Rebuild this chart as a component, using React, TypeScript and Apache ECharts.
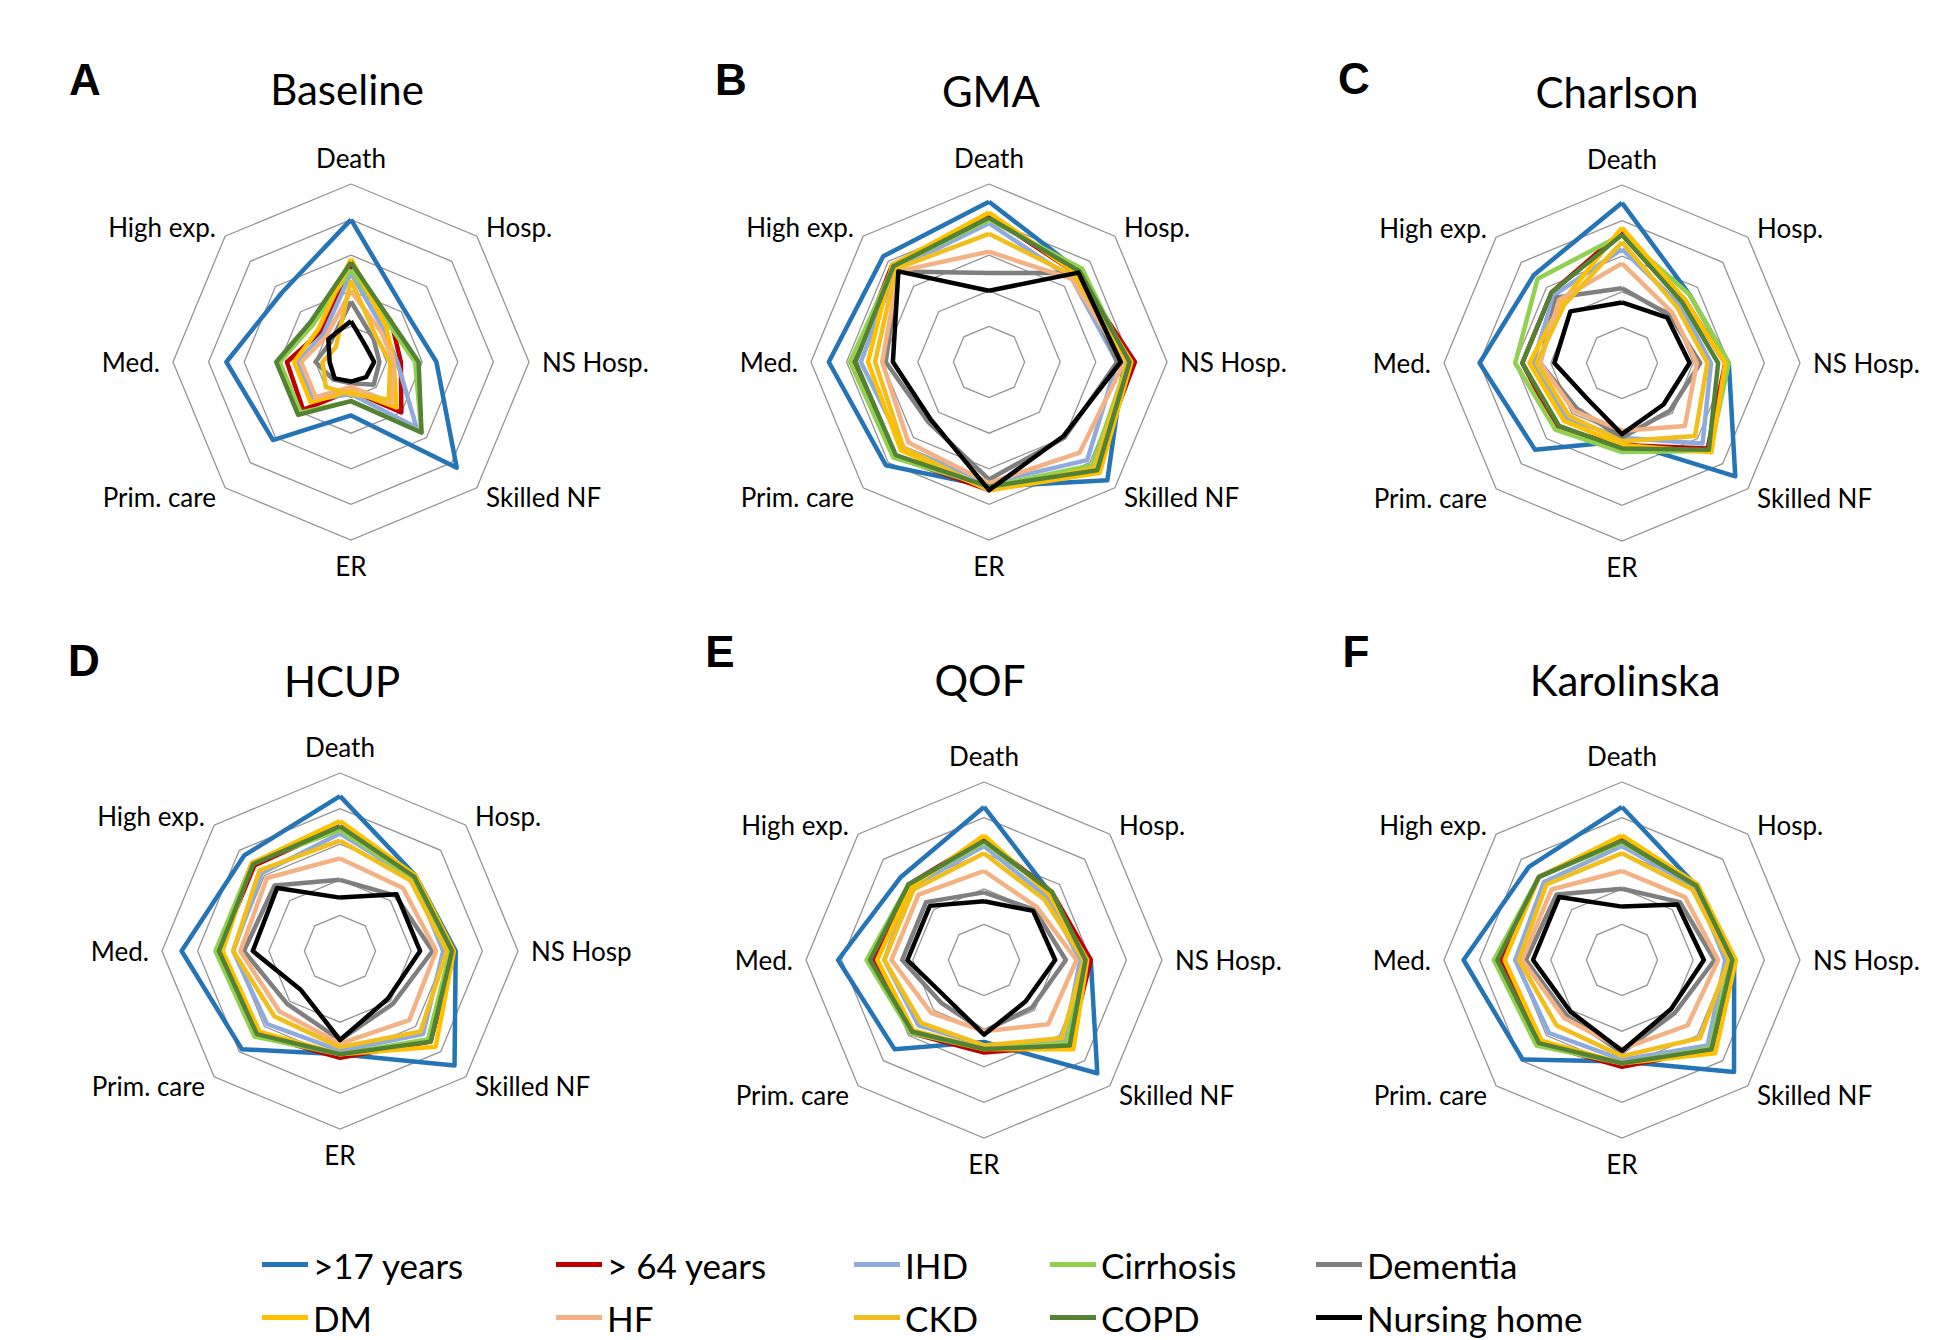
import React, { useEffect, useRef } from "react";
import * as echarts from "echarts";

// ---------- data ----------
const groups = [">17 years", "> 64 years", "IHD", "Cirrhosis", "Dementia", "DM", "HF", "CKD", "COPD", "Nursing home"];
const groupColors = ["#2474B6", "#C00000", "#8FAADC", "#92D050", "#7F7F7F", "#FFC000", "#F4B183", "#F2BE1C", "#548235", "#000000"];

// axis order clockwise from top
const axisLabels = ["Death", "Hosp.", "NS Hosp.", "Skilled NF", "ER", "Prim. care", "Med.", "High exp."];
const axisLabelsHCUP = ["Death", "Hosp.", "NS Hosp", "Skilled NF", "ER", "Prim. care", "Med.", "High exp."];

const panelLetters = ["A", "B", "C", "D", "E", "F"];
const panelTitles = ["Baseline", "GMA", "Charlson", "HCUP", "QOF", "Karolinska"];

// rows follow `groups`; columns follow axisLabels (Death, Hosp., NS Hosp., Skilled NF, ER, Prim. care, Med., High exp.)
const baselineValues = [
  [4.0, 2.1, 2.4, 4.2, 1.5, 3.1, 3.5, 2.75],
  [2.7, 1.6, 1.4, 2.0, 0.8, 1.9, 1.8, 1.2],
  [2.5, 1.3, 1.3, 2.6, 0.9, 1.5, 1.5, 1.1],
  [2.6, 1.5, 1.8, 2.8, 1.1, 2.0, 2.0, 1.5],
  [1.7, 0.9, 0.8, 0.9, 0.6, 0.7, 1.0, 0.8],
  [2.9, 1.4, 1.2, 1.8, 0.8, 1.6, 1.6, 1.3],
  [2.0, 1.2, 1.2, 1.6, 0.7, 1.4, 1.4, 1.0],
  [2.3, 1.0, 1.1, 1.5, 0.9, 1.0, 0.8, 0.6],
  [2.8, 1.6, 1.9, 2.8, 1.1, 2.1, 2.1, 1.6],
  [1.15, 0.6, 0.65, 0.6, 0.55, 0.65, 0.6, 0.9],
];
const gmaValues = [
  [4.5, 3.6, 3.8, 4.7, 3.5, 4.1, 4.5, 4.2],
  [4.1, 3.5, 4.1, 4.2, 3.6, 3.75, 3.8, 3.85],
  [3.9, 3.3, 3.6, 3.9, 3.4, 3.4, 3.6, 3.7],
  [4.0, 3.7, 3.9, 4.1, 3.5, 3.8, 3.9, 3.8],
  [2.5, 3.55, 3.6, 3.0, 3.3, 2.4, 2.9, 3.6],
  [4.2, 3.5, 4.0, 4.4, 3.6, 3.5, 3.4, 3.85],
  [3.1, 3.3, 3.8, 3.6, 3.4, 3.2, 3.0, 3.6],
  [3.6, 3.4, 3.9, 4.2, 3.6, 3.4, 3.2, 3.7],
  [4.05, 3.6, 3.95, 4.3, 3.5, 3.7, 3.75, 3.8],
  [2.0, 3.55, 3.7, 2.95, 3.6, 2.3, 2.7, 3.6],
];
const charlsonValues = [
  [4.5, 2.7, 3.0, 4.5, 2.2, 3.45, 4.0, 3.5],
  [3.7, 2.5, 2.9, 3.4, 2.3, 2.6, 2.8, 2.8],
  [3.2, 2.3, 2.5, 3.2, 2.1, 2.2, 2.5, 2.7],
  [3.6, 2.7, 3.0, 3.5, 2.5, 2.65, 3.0, 3.35],
  [2.1, 1.9, 2.2, 1.9, 2.1, 1.8, 2.3, 2.6],
  [3.8, 2.5, 2.9, 3.55, 2.3, 2.3, 2.6, 2.4],
  [2.8, 2.0, 2.1, 2.5, 1.9, 1.9, 2.3, 2.5],
  [3.4, 2.2, 2.4, 2.9, 2.2, 2.1, 2.4, 2.3],
  [3.6, 2.4, 2.7, 3.45, 2.4, 2.5, 2.8, 2.8],
  [1.7, 1.8, 1.9, 1.65, 2.0, 1.4, 1.9, 2.05],
];
const hcupValues = [
  [4.35, 3.0, 3.25, 4.55, 2.9, 3.9, 4.45, 3.8],
  [3.5, 2.9, 3.2, 3.6, 3.0, 3.3, 3.4, 3.4],
  [3.3, 2.9, 2.9, 3.3, 2.8, 2.9, 3.0, 3.1],
  [3.4, 2.9, 3.1, 3.5, 2.9, 3.4, 3.5, 3.5],
  [2.0, 2.2, 2.6, 2.1, 2.5, 2.1, 2.7, 2.6],
  [3.65, 3.0, 3.2, 3.8, 2.9, 3.2, 3.3, 3.5],
  [2.6, 2.5, 2.7, 2.75, 2.6, 2.4, 2.8, 2.9],
  [3.1, 2.8, 3.0, 3.2, 2.7, 2.6, 3.0, 3.2],
  [3.5, 2.95, 3.15, 3.6, 2.9, 3.3, 3.4, 3.45],
  [1.5, 2.25, 2.25, 1.9, 2.5, 1.55, 2.45, 2.5],
];
const qofValues = [
  [4.3, 2.65, 3.0, 4.5, 2.3, 3.55, 4.1, 3.3],
  [3.4, 2.7, 3.0, 3.4, 2.6, 2.9, 3.1, 3.0],
  [3.2, 2.5, 2.7, 3.2, 2.4, 2.6, 2.8, 2.9],
  [3.3, 2.7, 2.8, 3.3, 2.5, 2.9, 3.3, 3.0],
  [1.9, 2.0, 2.3, 1.9, 2.0, 1.7, 2.3, 2.3],
  [3.5, 2.6, 2.9, 3.55, 2.5, 2.8, 3.0, 2.9],
  [2.5, 2.1, 2.6, 2.55, 2.0, 2.1, 2.6, 2.6],
  [3.0, 2.4, 2.8, 3.1, 2.4, 2.5, 2.8, 2.8],
  [3.35, 2.7, 2.85, 3.4, 2.5, 2.85, 3.2, 3.0],
  [1.65, 1.95, 2.0, 1.65, 2.1, 1.5, 2.15, 2.15],
];
const karolinskaValues = [
  [4.3, 2.95, 3.15, 4.45, 2.85, 3.95, 4.45, 3.7],
  [3.4, 2.95, 3.15, 3.55, 3.0, 3.3, 3.4, 3.3],
  [3.2, 2.9, 2.9, 3.4, 2.8, 2.9, 3.0, 3.1],
  [3.3, 3.0, 3.05, 3.5, 2.9, 3.4, 3.6, 3.3],
  [2.0, 2.3, 2.6, 2.1, 2.6, 2.2, 2.7, 2.6],
  [3.5, 3.0, 3.2, 3.7, 2.9, 3.2, 3.3, 3.3],
  [2.5, 2.5, 2.7, 2.6, 2.5, 2.3, 2.8, 2.8],
  [3.0, 2.8, 3.0, 3.1, 2.7, 2.6, 2.9, 3.0],
  [3.35, 2.95, 3.1, 3.55, 2.9, 3.3, 3.5, 3.3],
  [1.5, 2.2, 2.3, 1.95, 2.55, 2.05, 2.5, 2.5],
];

const panelValues = [baselineValues, gmaValues, charlsonValues, hcupValues, qofValues, karolinskaValues];
const panelAxisLabels = [axisLabels, axisLabels, axisLabels, axisLabelsHCUP, axisLabels, axisLabels];
const scaleMax = 5;

// ---------- layout ----------
const panelCenters = [[351, 362], [989, 362], [1622, 363], [340, 951], [984, 960], [1622, 960]];
const panelRadius = [178, 178, 178, 178, 178, 178];
const letterPos = [[85, 79], [731, 79], [1354, 78], [84, 660], [720, 651], [1356, 651]];
const titlePos = [[347, 89], [991, 91], [1617, 92], [342, 681], [980, 680], [1625, 680]];
const legendCols = [262, 556, 854, 1050, 1316];
const legendRowTops = [1247, 1300];

const FONT = "Lato, 'Open Sans', sans-serif";
// ECharts radar places indicators counter-clockwise; reorder clockwise data accordingly
const ccwOrder = [0, 7, 6, 5, 4, 3, 2, 1];

export default function App() {
  const ref = useRef<HTMLDivElement>(null);
  useEffect(() => {
    if (!ref.current) return;
    const chart = echarts.init(ref.current, null, { renderer: "svg" });

    const radar = panelCenters.map((c, p) => ({
      center: c,
      radius: panelRadius[p],
      startAngle: 90,
      splitNumber: 5,
      shape: "polygon",
      nameGap: 13,
      indicator: ccwOrder.map((i) => ({ name: panelAxisLabels[p][i], min: 0, max: scaleMax })),
      axisName: { color: "#000", fontFamily: FONT, fontSize: 26 },
      axisLine: { show: false },
      axisTick: { show: false },
      axisLabel: { show: false },
      splitLine: { lineStyle: { color: "#959595", width: 1.3 } },
      splitArea: { show: false },
    }));

    const series = panelValues.map((rows, p) => ({
      type: "radar",
      radarIndex: p,
      symbol: "none",
      silent: true,
      data: rows.map((row, k) => ({
        name: groups[k],
        value: ccwOrder.map((i) => row[i]),
        lineStyle: { color: groupColors[k], width: 4.5 },
        itemStyle: { color: groupColors[k] },
      })),
    }));

    const legend = groups.map((g, k) => ({
      left: legendCols[k % 5],
      top: legendRowTops[Math.floor(k / 5)],
      padding: 0,
      data: [g],
      icon: "rect",
      itemWidth: 46,
      itemHeight: 5,
      selectedMode: false,
      textStyle: { fontFamily: FONT, fontSize: 35, color: "#000" },
    }));

    const graphic: any[] = [];
    panelLetters.forEach((l, p) => {
      graphic.push({
        type: "text",
        x: letterPos[p][0],
        y: letterPos[p][1],
        style: { text: l, font: "bold 44px 'Liberation Sans', Arial, sans-serif", fill: "#000", align: "center", verticalAlign: "middle" },
      });
      graphic.push({
        type: "text",
        x: titlePos[p][0],
        y: titlePos[p][1],
        style: { text: panelTitles[p], fontFamily: FONT, fontSize: 42, fill: "#000", align: "center", verticalAlign: "middle" },
      });
    });

    chart.setOption({
      animation: false,
      backgroundColor: "#fff",
      radar,
      series,
      legend,
      graphic,
    });
    return () => chart.dispose();
  }, []);
  return <div ref={ref} style={{ position: "fixed", left: 0, top: 0, width: 1960, height: 1340 }} />;
}
